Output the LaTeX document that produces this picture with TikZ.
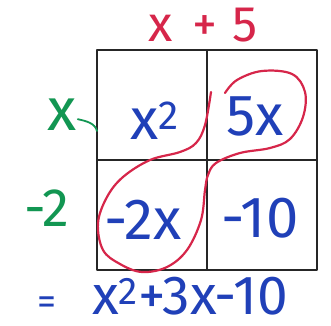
\documentclass[tikz,border=0pt]{standalone}
\usepackage{fontspec}
\setmainfont{Fira Sans}
\definecolor{penred}{RGB}{214,38,74}
\definecolor{penblue}{RGB}{32,64,184}
\definecolor{pengreen}{RGB}{18,150,82}

\begin{document}
\begin{tikzpicture}[x=1pt,y=-1pt,line cap=round,line join=round,
  every node/.style={inner sep=0pt,anchor=base},
  factor/.style={text=pengreen,font=\fontsize{60}{64}\selectfont},
  term/.style={text=penblue,font=\fontsize{58}{62}\selectfont}]
  \useasboundingbox (0,0) rectangle (331,325);
  \def\L{97}
  \def\T{50}
  \def\s{110}
  \draw[line width=1.6pt,black!85] (\L,\T) rectangle ({\L+2*\s},{\T+2*\s});
  \draw[line width=1.6pt,black!85] ({\L+\s},\T) -- ({\L+\s},{\T+2*\s});
  \draw[line width=1.6pt,black!85] (\L,{\T+\s}) -- ({\L+2*\s},{\T+\s});
  \node[text=penred,font=\fontsize{50}{54}\selectfont] (top) at (203,41) {x\hspace{0.4em}+\hspace{0.3em}5};
  \node[factor] (gx) at (62,130) {x};
  \node[factor,font=\fontsize{54}{58}\selectfont] (gtwo) at (47,226) {-2};
  \draw[pengreen,line width=1.8pt] ([xshift=1pt,yshift=-5pt]gx.east) .. controls (86,121) and (95,123) .. (97,131);
  \node[term] (xx) at (155,139) {x\textsuperscript{2}};
  \node[term] (fivex) at (255,135) {5x};
  \node[term] (mtwox) at (143,239) {-2x};
  \node[term] (mten) at (260,237) {-10};
  \node[text=penblue,font=\fontsize{38}{40}\selectfont] (eq) at (47,314) {=};
  \node[term,font=\fontsize{55}{60}\selectfont] (result) at (190,314) {x\textsuperscript{2}+3x-10};
  \draw[penred,line width=2.2pt] plot[smooth,tension=0.6] coordinates {
    (211,92) (205,125) (196,143) (180,152) (150,160) (123,177) (107,197) (98,223)
    (103,250) (120,264) (142,272) (167,267) (187,250) (201,220) (205,190)
    (208,175) (216,163) (240,153) (270,148) (290,139) (303,117) (305,92)
    (292,74) (262,71) (237,80) (225,93)};
\end{tikzpicture}
\end{document}
